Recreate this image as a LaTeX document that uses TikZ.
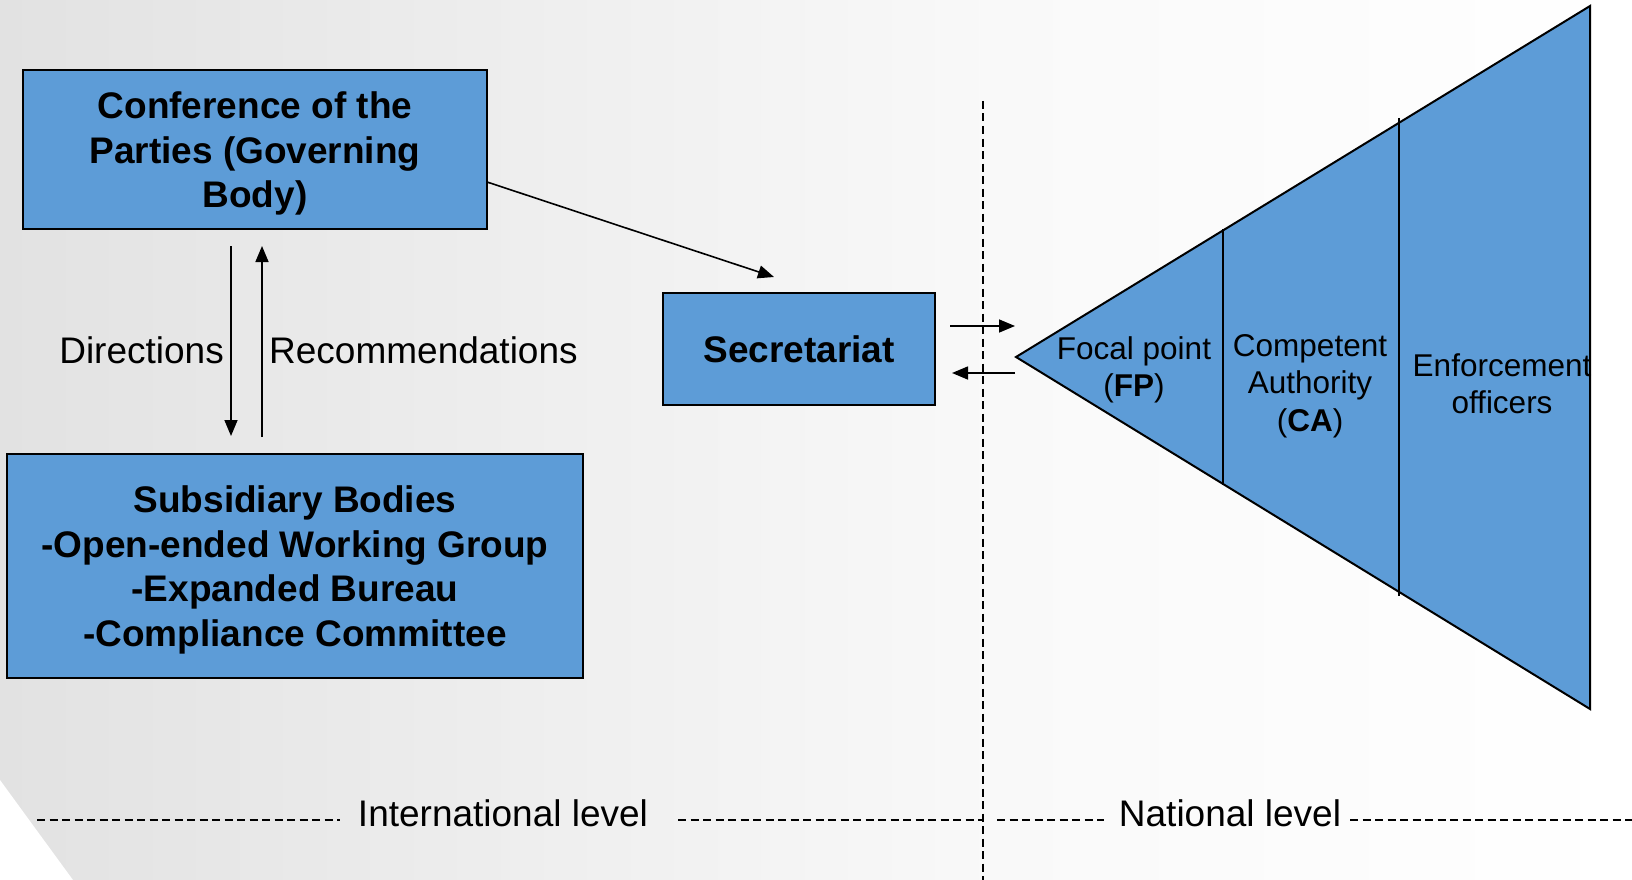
\documentclass[tikz,border=0pt]{standalone}
\usepackage{fontspec}
\setmainfont{Liberation Sans}
\usetikzlibrary{calc,arrows.meta}
\definecolor{boxblue}{RGB}{93,156,215}
\definecolor{bgl}{RGB}{226,226,226}
\definecolor{bgm}{RGB}{249,249,249}
\begin{document}
\begin{tikzpicture}[x=1pt,y=-1pt,
  box/.style={draw=black, line width=2pt, fill=boxblue, inner sep=0pt},
  boxtext/.style={align=center, inner sep=0pt, yshift=-4pt,
    font=\fontsize{37}{44.5}\selectfont\bfseries},
  lbl/.style={font=\fontsize{37}{44.5}\selectfont, inner sep=0pt},
  tlbl/.style={font=\fontsize{31.5}{37.5}\selectfont, align=center, inner sep=0pt},
  conn/.style={line width=1.6pt, -{Triangle[length=16pt,width=13pt]}},
  dashline/.style={line width=2pt, dash pattern=on 8pt off 4.5pt},
  divline/.style={line width=2pt}]
\path[use as bounding box] (0,0) rectangle (1632,880);
% background
\shade[left color=bgl, right color=bgm] (0,0) rectangle (1000,880);
\shade[left color=bgm, right color=white] (1000,0) rectangle (1632,880);
\fill[white] (0,780) .. controls (35,828) .. (73,880) -- (0,880) -- cycle;

% boxes
\node[box, minimum width=464pt, minimum height=159pt] (cop) at (255,149.5) {};
\node[boxtext] (copt) at (cop.center) {Conference of the\\Parties (Governing\\Body)};
\node[box, minimum width=576pt, minimum height=224pt] (sub) at (295,566) {};
\node[boxtext] (subt) at (sub.center)
  {Subsidiary Bodies\\-Open-ended Working Group\\-Expanded Bureau\\-Compliance Committee};
\node[box, minimum width=272pt, minimum height=112pt] (sec) at (799,349) {};
\node[boxtext, yshift=4pt] (sect) at (sec.center) {Secretariat};

% triangle
\coordinate (apex) at (1016,357);
\coordinate (ttop) at (1590,6);
\coordinate (tbot) at (1590,709);
\filldraw[fill=boxblue, draw=black, line width=2pt, line join=miter] (apex) -- (ttop) -- (tbot) -- cycle;
\coordinate (d1t) at (1223,229);
\coordinate (d1b) at (1223,485);
\coordinate (d2t) at (1399,118);
\coordinate (d2b) at (1399,596);
\draw[divline] (d1t) -- (d1b);
\draw[divline] (d2t) -- (d2b);
\node[tlbl] (fp) at (1134,370) {Focal point\\(\textbf{FP})};
\node[tlbl] (ca) at (1310,386) {Competent\\Authority\\(\textbf{CA})};
\node[tlbl] (eo) at (1502,384) {Enforcement\\officers};

% vertical arrows and labels
\coordinate (dirS) at (231,246);
\coordinate (dirE) at (231,436);
\coordinate (recS) at (262,437);
\coordinate (recE) at (262,246);
\draw[conn] (dirS) -- (dirE);
\draw[conn] (recS) -- (recE);
\node[lbl, anchor=east] (dirl) at (224,350) {Directions};
\node[lbl, anchor=west] (recl) at (269,350) {Recommendations};

% COP to secretariat
\coordinate (copOut) at (487,182);
\coordinate (secIn) at (774,277);
\draw[conn] (copOut) -- (secIn);

% secretariat <-> national
\coordinate (a1s) at (950,326);
\coordinate (a1e) at (1015,326);
\coordinate (a2s) at (1015,373);
\coordinate (a2e) at (952,373);
\draw[conn] (a1s) -- (a1e);
\draw[conn] (a2s) -- (a2e);

% level divider
\coordinate (vtop) at (983,101);
\coordinate (vbot) at (983,880);
\draw[dashline] (vtop) -- (vbot);

\node[lbl] (intl) at (503,813) {International level};
\node[lbl] (natl) at (1230,813) {National level};
\coordinate (h1a) at (37,820);
\coordinate (h1b) at (340,820);
\coordinate (h2a) at (678,820);
\coordinate (h2b) at (983,820);
\coordinate (h3a) at (997,820);
\coordinate (h3b) at (1104,820);
\coordinate (h4a) at (1350,820);
\coordinate (h4b) at (1632,820);
\draw[dashline] (h1a) -- (h1b);
\draw[dashline] (h2a) -- (h2b);
\draw[dashline] (h3a) -- (h3b);
\draw[dashline] (h4a) -- (h4b);
\end{tikzpicture}
\end{document}
